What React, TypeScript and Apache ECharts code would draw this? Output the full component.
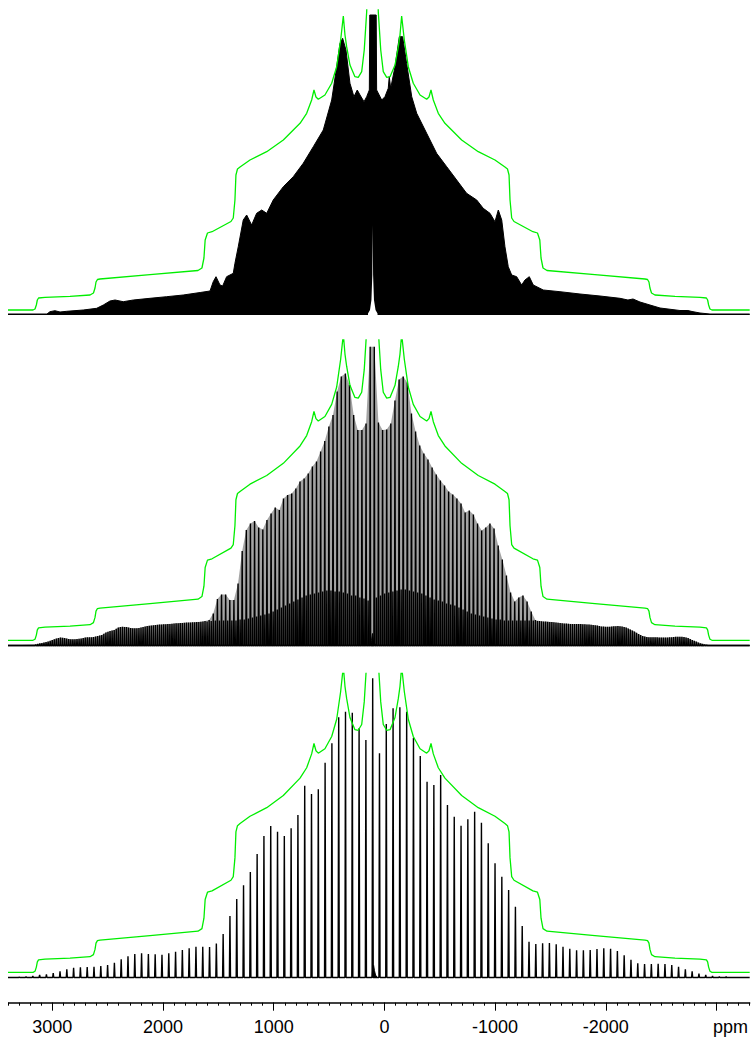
import React, { useEffect, useRef } from "react";
import * as echarts from "echarts";

// ---------- axis ----------
const X_MAX = 3400;
const X_MIN = -3300;
const majorTicks = [3000, 2000, 1000, 0, -1000, -2000, -3000];
const unitLabel = "ppm";

// ---------- green static envelope (ppm, intensity) ----------
const greenPpm = [3400, 3174, 3156, 3144, 3135, 3124, 3066, 2840, 2659, 2628,
  2614, 2605, 2592, 2569, 2117, 1684, 1648, 1630, 1619, 1598,
  1557, 1386, 1365, 1350, 1341, 1327, 1304, 1214, 1063, 913,
  762, 702, 657, 636, 618, 597, 537, 476, 431, 395,
  371, 356, 341, 311, 266, 236, 205, 182, 160, 150,
  107,
  64, 55, 33, 10, -21, -51, -96, -126, -141, -156,
  -180, -216, -261, -322, -382, -403, -421, -442, -487, -547,
  -698, -848, -999, -1089, -1112, -1126, -1135, -1150, -1171, -1342,
  -1383, -1404, -1415, -1433, -1469, -1902, -2354, -2377, -2390, -2399,
  -2413, -2444, -2625, -2851, -2909, -2920, -2929, -2941, -2959, -3300];
const greenInt = [5, 5, 6, 10, 15, 17, 17.7, 18.7, 20, 22,
  27, 33, 35.5, 36, 40.3, 44.5, 47, 57, 75, 82,
  83.3, 93.5, 97, 115, 140, 146, 148, 155, 163.3, 175,
  191.7, 201.7, 215, 225, 218, 215.7, 220, 231.7, 248.3, 275,
  299, 280, 268.3, 250, 238.3, 237.7, 243.3, 265, 303, 340,
  420,
  340, 303, 265, 243.3, 237.7, 238.3, 250, 268.3, 280, 299,
  275, 248.3, 231.7, 220, 215.7, 218, 225, 215, 201.7, 191.7,
  175, 163.3, 155, 148, 146, 140, 115, 97, 93.5, 83.3,
  82, 75, 57, 47, 44.5, 40.3, 36, 35.5, 33, 27,
  22, 20, 18.7, 17.7, 17, 15, 10, 6, 5, 5];

// ---------- top spectrum (dense, filled outline) ----------
const topPpm = [3400, 3048, 3021, 2976, 2930, 2870, 2720, 2599, 2539, 2479,
  2433, 2359, 2268, 2117, 1967, 1817, 1664, 1575, 1546, 1521,
  1485, 1461, 1425, 1365, 1350, 1320, 1275, 1244, 1199, 1154,
  1108, 1063, 1004, 913, 823, 733, 642, 552, 476, 431,
  401, 377, 347, 311, 275, 245, 220, 184, 160, 136,
  132, 74, 70, 24, -5, -35, -44, -57, -96, -135,
  -165, -201, -247, -292, -382, -472, -563, -653, -743, -834,
  -893, -954, -999, -1029, -1060, -1089, -1119, -1150, -1195, -1240,
  -1270, -1309, -1345, -1435, -1586, -1767, -1948, -2128, -2200, -2246,
  -2309, -2399, -2490, -2670, -2742, -2779, -2851, -2941, -3300];
const topInt = [1, 1, 3.3, 4.3, 3, 3.7, 5, 6.7, 10, 14,
  15, 13.3, 15, 16.7, 18.3, 20, 22.5, 24, 33.3, 38.3,
  30, 29, 38.3, 41.7, 51.7, 68.3, 95, 100, 90, 101.7,
  105, 101.7, 115, 128.3, 138.3, 151.7, 168.3, 185, 215, 248.3,
  271.7, 276.7, 265, 231.7, 218.3, 225, 220, 213.3, 218.3, 225,
  300, 300, 225, 215, 218.3, 226.7, 238.3, 226.7, 248.3, 278.3,
  278.3, 251.7, 218.3, 201.7, 181.7, 161.7, 148.3, 135, 121.7, 115,
  106.7, 101.7, 93.3, 105, 95, 68.3, 48.3, 40, 38.3, 30,
  35, 38.3, 30, 25, 23.3, 21, 19, 16.7, 15, 16,
  13, 10, 7, 4.5, 4.5, 3.5, 2, 1, 1];
const topNotchPpm = [148, 130, 117, 109, 106, 102, 94, 80, 62];
const topNotchInt = [1.5, 5, 15, 40, 90, 40, 15, 5, 1.5];

// ---------- middle spectrum (sidebands) ----------
const middleCenter = 109.7;
const middleSpacing = 37.3;
const middleTallLeft = [298.8, 222, 215.5, 215.5, 230.5, 260.5, 272, 269, 254, 230.5,
  219, 204.5, 194, 184, 179, 172, 167, 164, 157, 152,
  150.5, 147, 135.5, 138, 132, 125.5, 116, 118, 124.5, 122,
  115.5, 94.5, 62, 45.5, 45.5, 51, 51, 46.5, 32, 25.5,
  24.5, 23.8, 23.5, 23.2, 23, 22.8, 22.5, 22.2, 21.8, 21.5,
  21.2, 21, 20.5, 20, 19.5, 18.5, 17.5, 17.2, 17.5, 18.5,
  18.8, 18, 15.5, 14.5, 13, 10.5, 9.5, 8.5, 8.2, 8,
  7, 6.5, 6.2, 6.5, 7.5, 8, 7, 5.5, 4, 3, 2, 1];
const middleTallRight = [298.8, 223, 215.5, 216, 222, 245, 266, 269, 263, 232,
  214, 200, 192, 186, 178, 171, 165, 160, 154, 151,
  147, 142, 133, 135, 131, 122, 115, 118, 122, 117,
  100, 86, 70, 53, 44, 48, 50, 44, 34, 25.5,
  24.5, 24, 23.8, 23.5, 23, 22.5, 22, 21.8, 21.5, 21.5,
  21.5, 21.2, 21, 20.5, 20, 19, 18.8, 18.8, 19.2, 19.5,
  19, 18, 16, 14, 11.5, 9.5, 8.5, 8.2, 8.2, 8,
  8, 8, 8.2, 8.8, 8.8, 8.5, 7.5, 5.5, 3.8, 2.2, 1, 0.5];
const middleShortLeft = [45, 47, 48, 50, 50, 52, 53, 54, 54, 55,
  55, 54, 53, 52, 51, 50, 48, 46, 44, 42,
  40, 38, 36, 34, 32, 31, 30, 29, 28, 27,
  26, 26, 25, 25, 25, 25, 25, 25, 24.5, 24,
  24, 23.6, 23.3, 23.1, 22.9, 22.6, 22.3, 22, 21.6, 21.3,
  21.1, 20.7, 20.2, 19.7, 19, 18, 17.3, 17.3, 18, 18.6,
  18.4, 16.7, 15, 13.7, 11.7, 10, 9, 8.3, 8.1, 7.5,
  6.7, 6.3, 6.3, 7, 7.7, 7.5, 6.2, 4.7, 3.5, 2.5, 1.5, 0.5];
const middleShortRight = [48, 50, 52, 53, 54, 55, 56, 56, 55, 54,
  53, 52, 50, 48, 46, 45, 44, 42, 41, 40,
  38, 36, 34, 32, 31, 30, 29, 28, 27, 26,
  26, 25, 25, 25, 25, 25, 25, 25, 25, 24.5,
  24.2, 23.9, 23.6, 23.2, 22.7, 22.2, 21.9, 21.6, 21.5, 21.5,
  21.3, 21.1, 20.7, 20.2, 19.5, 18.9, 18.8, 19, 19.3, 19.2,
  18.5, 17, 15, 12.7, 10.5, 9, 8.3, 8.2, 8.1, 8,
  8, 8.1, 8.5, 8.8, 8.6, 8, 6.5, 4.6, 3, 1.6, 0.7, 0.3];
const middleIsoPpm = [125, 116, 108, 100, 88, 72];
const middleIsoInt = [0, 5, 12, 6, 2, 0];

// ---------- bottom spectrum (sidebands) ----------
const bottomCenter = 105.7;
const bottomSpacing = 61.4;
const bottomCenterHeight = 299.2;
const bottomLeft = [237.5, 249.2, 264.8, 265.8, 260.2, 234.2, 214.8, 188.2, 183.5, 191.8,
  162.5, 149.2, 141.5, 145.8, 151.5, 141.5, 123.5, 105.5, 92.2, 78.5,
  61.5, 43.5, 34, 30.5, 30.8, 30.8, 29.2, 27.5, 25.8, 24.2,
  22.8, 23.2, 23.5, 24.2, 23.5, 21.2, 18.2, 14.8, 12.5, 11.5,
  10.8, 10.5, 10.2, 9.8, 8.2, 6.2, 4.5, 3.2, 2.5, 1.5, 1, 0.5];
const bottomRight = [224.2, 253.5, 269.2, 270.2, 265.8, 239.8, 221.5, 195.8, 192.5, 202.5,
  172.5, 160.8, 151.8, 158.2, 165.8, 154.8, 134.2, 114.2, 100.8, 87.5,
  70.8, 51.5, 35.8, 33.5, 34.2, 34.5, 33.2, 30.8, 28.8, 27.2,
  27.2, 27.5, 28.5, 29.2, 28.8, 26.5, 22.2, 17.8, 14.2, 13.5,
  13.5, 13.8, 13.5, 12.5, 10.8, 8.2, 6.2, 3.8, 2.5, 1.5, 1, 0.8];
const bottomIsoPpm = [112, 104, 97, 90, 80, 66];
const bottomIsoInt = [0, 11, 12, 7, 2.5, 0];

type P = [number, number];

function zip(xs: number[], ys: number[]): P[] {
  return xs.map((x, i) => [x, ys[i]] as P);
}

// sideband list, sorted from high ppm (left) to low ppm (right)
function comb(center: number, spacing: number, shift: number, left: number[], right: number[], mid: number | null): P[] {
  const out: P[] = [];
  for (let k = left.length; k >= 1; k--) out.push([center + (k - shift) * spacing, left[k - 1]]);
  if (mid !== null) out.push([center, mid]);
  for (let k = 1; k <= right.length; k++) out.push([center - (k - shift) * spacing, right[k - 1]]);
  return out;
}

function spikes(list: P[], hw: number): P[] {
  const pts: P[] = [[X_MAX, 0]];
  for (const [p, h] of list) {
    pts.push([p + hw, 0], [p, h], [p - hw, 0]);
  }
  pts.push([X_MIN, 0]);
  return pts;
}

const FONT = "'Liberation Sans', Arial, Helvetica, sans-serif";
const GREEN = "#00ee00";
const W = 741.7;

function line(xi: number, yi: number, data: P[], color: string, width: number, z: number, extra: any = {}) {
  return {
    type: "line",
    xAxisIndex: xi,
    yAxisIndex: yi,
    data,
    symbol: "none",
    showSymbol: false,
    silent: true,
    animation: false,
    z,
    lineStyle: { color, width },
    ...extra,
  };
}

export default function App() {
  const ref = useRef<HTMLDivElement>(null);
  useEffect(() => {
    if (!ref.current) return;
    const chart = echarts.init(ref.current, undefined, { renderer: "svg" });

    const green = zip(greenPpm, greenInt);
    const midTall = comb(middleCenter, middleSpacing, 0.5, middleTallLeft, middleTallRight, null);
    const midShort = comb(middleCenter, middleSpacing, 0, middleShortLeft, middleShortRight, null);
    const bottom = comb(bottomCenter, bottomSpacing, 0, bottomLeft, bottomRight, bottomCenterHeight);
    const greyFill: P[] = [[X_MAX, 0], ...midTall, [X_MIN, 0]];

    const hiddenX = (gi: number) => ({
      gridIndex: gi, type: "value", min: X_MIN, max: X_MAX, inverse: true, show: false,
    });

    const option: any = {
      animation: false,
      backgroundColor: "#fff",
      grid: [
        { left: 0, top: 2, width: W, height: 305 },
        { left: 0, top: 332, width: W, height: 305.5 },
        { left: 0, top: 665.5, width: W, height: 304 },
        { left: 44.28, top: 665.5, width: 664.2, height: 304 },
      ],
      xAxis: [
        hiddenX(0),
        hiddenX(1),
        {
          gridIndex: 2, type: "value", min: X_MIN, max: X_MAX, inverse: true,
          position: "bottom", offset: 25.2, interval: 100,
          axisLine: { show: true, onZero: false, lineStyle: { color: "#000", width: 1.5 } },
          axisTick: { show: true, length: 3, inside: false, lineStyle: { color: "#000", width: 1 } },
          axisLabel: { show: false },
          splitLine: { show: false },
        },
        {
          gridIndex: 3, type: "value", min: majorTicks[majorTicks.length - 1], max: majorTicks[0], inverse: true,
          position: "bottom", offset: 25.2, interval: 1000,
          axisLine: { show: false, onZero: false },
          axisTick: { show: true, length: 8, inside: false, lineStyle: { color: "#000", width: 1 } },
          axisLabel: {
            show: true, margin: 15, fontSize: 18, fontFamily: FONT, color: "#000",
            showMinLabel: true, showMaxLabel: true,
            formatter: (v: number) => (v === majorTicks[majorTicks.length - 1] ? "{u|" + unitLabel + "}" : String(v)),
            rich: { u: { fontSize: 18, fontFamily: FONT, color: "#000", padding: [0, 0, 0, 28] } },
          },
          splitLine: { show: false },
        },
      ],
      yAxis: [
        { gridIndex: 0, type: "value", min: 0, max: 305, show: false },
        { gridIndex: 1, type: "value", min: 0, max: 305.5, show: false },
        { gridIndex: 2, type: "value", min: 0, max: 304, show: false },
        { gridIndex: 3, type: "value", min: 0, max: 1, show: false },
        { gridIndex: 1, type: "value", min: 0, max: 293.5, show: false },
        { gridIndex: 2, type: "value", min: 0, max: 292.3, show: false },
      ],
      series: [
        // top panel
        line(0, 0, zip(topPpm, topInt), "#000", 1, 2, { clip: false, areaStyle: { color: "#000", opacity: 1 } }),
        line(0, 0, zip(topNotchPpm, topNotchInt), "#fff", 0, 3, { clip: false, lineStyle: { width: 0, opacity: 0 }, areaStyle: { color: "#fff", opacity: 1 } }),
        line(0, 0, green, GREEN, 1.3, 5, { clip: true }),
        // middle panel
        line(1, 1, greyFill, "#a0a0a0", 0, 1, { clip: false, lineStyle: { width: 0, opacity: 0 }, areaStyle: { color: "#a4a4a4", opacity: 1 } }),
        line(1, 1, spikes(midShort, 3), "#000", 1.4, 2, { clip: false }),
        line(1, 1, spikes(midTall, 4), "#000", 1.4, 3, { clip: false }),
        line(1, 1, zip(middleIsoPpm, middleIsoInt), "#000", 1, 3, { clip: false, areaStyle: { color: "#000", opacity: 1 } }),
        line(1, 4, green, GREEN, 1.3, 5, { clip: true }),
        // bottom panel
        line(2, 2, spikes(bottom, 5), "#000", 1.4, 2, { clip: false }),
        line(2, 2, zip(bottomIsoPpm, bottomIsoInt), "#000", 1, 3, { clip: false, areaStyle: { color: "#000", opacity: 1 } }),
        line(2, 5, green, GREEN, 1.3, 5, { clip: true }),
      ],
    };
    chart.setOption(option);
    return () => chart.dispose();
  }, []);
  return (
    <div
      ref={ref}
      style={{ position: "absolute", left: 8, top: 8, width: 743, height: 1030 }}
    />
  );
}
